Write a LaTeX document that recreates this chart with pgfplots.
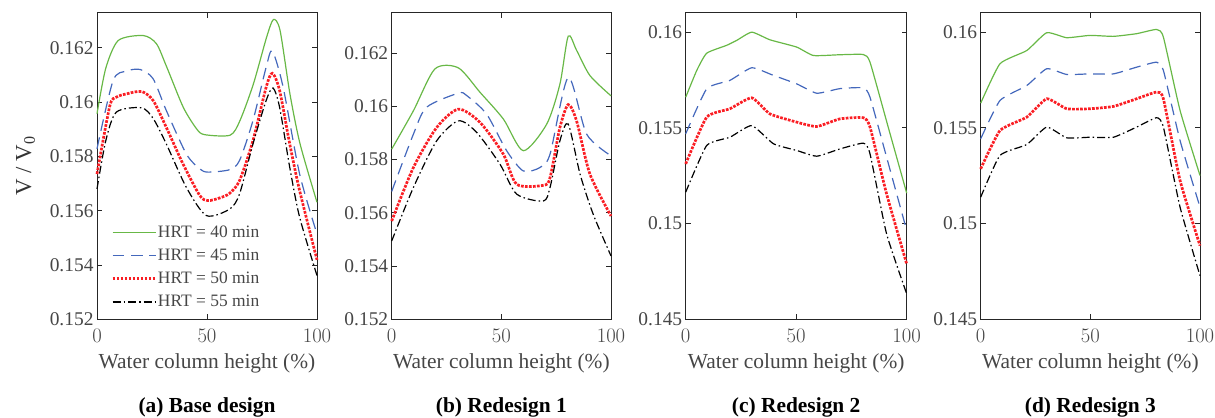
\documentclass[border=0pt]{standalone}
\usepackage{fontspec}
\setmainfont{Liberation Serif}
\usepackage{pgfplots}
\pgfplotsset{compat=1.18}
\definecolor{cg}{RGB}{104,184,70}
\definecolor{cb}{RGB}{68,104,188}
\definecolor{cr}{RGB}{250,30,36}
\definecolor{ctx}{RGB}{70,70,70}
\pgfplotsset{
  panel/.style={
    scale only axis, width=220bp, height=306.3bp, anchor=south west,
    xmin=0, xmax=100, xtick={0,50,100},
    xtick pos=both, ytick pos=both, tick align=inside,
    major tick length=5bp,
    tick style={black!85, line width=0.8bp},
    axis line style={black!85, line width=1bp},
    xticklabel style={font=\fontsize{19.5}{22}\selectfont, text=ctx, yshift=-6bp},
    yticklabel style={font=\fontsize{19.5}{22}\selectfont, text=ctx},
    xlabel={Water column height (\%)},
    xlabel style={at={(rel axis cs:0.5,0)}, anchor=center, yshift=-44bp, font=\fontsize{21.5}{24}\selectfont, text=ctx},
    clip=false,
  },
  sg/.style={cg, line width=1.2bp, smooth, tension=0.45},
  sb/.style={cb, line width=1.2bp, dash pattern=on 11.7bp off 6.7bp, smooth, tension=0.45},
  sr/.style={cr, line width=2.7bp, dash pattern=on 2.7bp off 1.3bp, smooth, tension=0.45},
  sk/.style={black, line width=1.2bp, dash pattern=on 8bp off 3bp on 1.5bp off 3bp, smooth, tension=0.45},
}
\begin{document}
\begin{tikzpicture}
\useasboundingbox (0,0) rectangle (1215bp,418bp);
% ---------------- (a)
\begin{axis}[panel, name=a, at={(97bp,98.7bp)},
  ymin=0.152, ymax=0.16328,
  ytick={0.152,0.154,0.156,0.158,0.160,0.162},
  yticklabels={0.152,0.154,0.156,0.158,0.16,0.162},
  ylabel={V / V\textsubscript{0}},
  ylabel style={at={(rel axis cs:-0.325,0.5)}, anchor=center, font=\fontsize{23}{26}\selectfont, text=black!80},
  legend style={at={(rel axis cs:0.064,0.313)}, anchor=north west, draw=none, fill=none,
     inner sep=0pt, row sep=6.2bp, font=\fontsize{17.5}{20}\selectfont, text=ctx,
     nodes={inner xsep=1bp}},
  legend cell align=left,
  legend image code/.code={\draw[#1] (0bp,0bp) -- (43bp,0bp);},
]
\addplot[sg] coordinates {(0,0.15957) (4,0.16125) (9.7,0.16227) (21,0.16245) (27,0.16215) (31.7,0.16129) (39.2,0.15981) (45.3,0.15901) (48.9,0.1588) (60.5,0.15878) (65,0.15932) (71.1,0.16067) (77.1,0.16239) (80.2,0.16304) (83.2,0.16264) (87.7,0.1603) (92.3,0.15846) (100,0.15631)};
\addlegendentry{HRT = 40 min}
\addplot[sb] coordinates {(0,0.15828) (7.3,0.16079) (13.3,0.16114) (19.6,0.1612) (25.5,0.16086) (31.5,0.15969) (40.6,0.15809) (46.7,0.15754) (50.4,0.15742) (60.3,0.15751) (64.8,0.15785) (70.9,0.15932) (76.9,0.16129) (79.7,0.16188) (84.6,0.16055) (92.1,0.15735) (100,0.15514)};
\addlegendentry{HRT = 45 min}
\addplot[sr] coordinates {(0,0.15735) (5.8,0.15985) (8.8,0.16018) (13.3,0.1603) (20.2,0.16039) (25.5,0.16006) (31.5,0.15907) (39.1,0.15772) (46.7,0.15656) (50.4,0.15637) (55.8,0.15647) (60.3,0.15664) (64.8,0.15711) (70.9,0.15858) (76.9,0.16055) (79.7,0.16106) (83,0.16043) (87.6,0.15846) (92.1,0.15674) (100,0.15419)};
\addlegendentry{HRT = 50 min}
\addplot[sk] coordinates {(0,0.1568) (4,0.15858) (8.8,0.15963) (20.2,0.15979) (25.5,0.1594) (31.5,0.15846) (40.6,0.15686) (49.7,0.15582) (60.3,0.15606) (64.8,0.15662) (70.9,0.15846) (76.9,0.16006) (80,0.16052) (83,0.15981) (87.6,0.1576) (92.1,0.15576) (100,0.15361)};
\addlegendentry{HRT = 55 min}
\end{axis}
% ---------------- (b)
\begin{axis}[panel, name=b, at={(391.7bp,98.7bp)}, width=219.3bp,
  ymin=0.152, ymax=0.1635,
  ytick={0.152,0.154,0.156,0.158,0.160,0.162},
  yticklabels={0.152,0.154,0.156,0.158,0.16,0.162},
]
\addplot[sg] coordinates {(0,0.15839) (9.9,0.15983) (19.7,0.1614) (30.4,0.16144) (40.3,0.16052) (50.9,0.15952) (60,0.15833) (70.7,0.15933) (76.7,0.16083) (80.5,0.16263) (84.3,0.1621) (90.4,0.16115) (100,0.16039)};
\addplot[sb] coordinates {(0,0.1568) (9.9,0.15895) (15.9,0.15996) (30.4,0.16049) (34.2,0.1604) (43.3,0.1597) (52.4,0.15833) (60,0.15757) (67.6,0.1577) (72.2,0.1582) (80.5,0.16108) (88.9,0.15895) (100,0.15814)};
\addplot[sr] coordinates {(0,0.15569) (9.9,0.1577) (20.5,0.1592) (30.4,0.15989) (40.3,0.15939) (50.9,0.1582) (57,0.15707) (69.1,0.15703) (72.2,0.15732) (76.7,0.1592) (80.5,0.16006) (84.3,0.15945) (90.4,0.15745) (100,0.15588)};
\addplot[sk] coordinates {(0,0.15494) (9.9,0.15695) (20.5,0.1587) (30.4,0.15945) (38.7,0.15902) (49.4,0.15782) (57,0.1567) (69.1,0.15644) (72.2,0.15695) (76.7,0.1587) (80.5,0.15933) (85.9,0.15745) (91.9,0.15594) (100,0.15438)};
\end{axis}
% ---------------- (c)
\begin{axis}[panel, name=c, at={(685.7bp,98.7bp)}, width=221bp,
  ymin=0.145, ymax=0.161,
  ytick={0.145,0.15,0.155,0.16},
  yticklabels={0.145,0.15,0.155,0.16},
]
\addplot[sg, tension=0.3] coordinates {(0,0.1566) (5,0.158) (9.5,0.1589) (18.5,0.15931) (23.1,0.15957) (29.9,0.16) (38.1,0.1596) (50.2,0.15922) (57.8,0.15878) (69.8,0.15882) (80.4,0.15883) (83.4,0.15843) (91.7,0.15501) (100,0.15159)};
\addplot[sb, tension=0.3] coordinates {(0,0.15469) (9.5,0.15704) (20,0.15748) (29.9,0.15814) (39.7,0.15774) (50.2,0.1573) (59.3,0.15681) (69.8,0.15705) (80.4,0.15709) (83.4,0.1566) (90.9,0.15347) (100,0.14964)};
\addplot[sr, tension=0.3] coordinates {(0,0.15312) (9.5,0.15556) (20,0.156) (29.9,0.15657) (38.1,0.15573) (50.2,0.1553) (59.3,0.15507) (69.8,0.15547) (80.4,0.15553) (83.4,0.15504) (90.9,0.15155) (100,0.14789)};
\addplot[sk, tension=0.3] coordinates {(0,0.15164) (9.5,0.15408) (20,0.15451) (29.9,0.15512) (39.7,0.15417) (50.2,0.15382) (59.3,0.15352) (69.8,0.1539) (80.4,0.1542) (83.4,0.15364) (90.9,0.14946) (100,0.14633)};
\end{axis}
% ---------------- (d)
\begin{axis}[panel, name=d, at={(980.7bp,98.7bp)}, width=219.3bp,
  ymin=0.145, ymax=0.161,
  ytick={0.145,0.15,0.155,0.16},
  yticklabels={0.145,0.15,0.155,0.16},
]
\addplot[sg, tension=0.3] coordinates {(0,0.15629) (8.8,0.15835) (21,0.15904) (30.1,0.15997) (39.2,0.15971) (49.8,0.15983) (60.5,0.15978) (71.1,0.15992) (80.2,0.16014) (83.3,0.15974) (90.9,0.15591) (100,0.15251)};
\addplot[sb, tension=0.3] coordinates {(0,0.15443) (8.8,0.15643) (21,0.15721) (30.1,0.15809) (39.2,0.15779) (49.8,0.15782) (60.5,0.15782) (71.1,0.15817) (80.2,0.15843) (83.3,0.158) (90.9,0.15434) (100,0.15086)};
\addplot[sr, tension=0.3] coordinates {(0,0.15286) (8.8,0.15486) (21,0.15556) (30.1,0.15652) (39.2,0.156) (49.8,0.156) (60.5,0.15612) (71.1,0.15652) (80.2,0.15687) (83.3,0.15652) (90.9,0.15225) (100,0.14885)};
\addplot[sk, tension=0.3] coordinates {(0,0.15138) (8.8,0.15356) (21,0.15413) (30.1,0.15504) (39.2,0.15448) (49.8,0.15451) (60.5,0.15451) (71.1,0.15504) (80.2,0.15553) (83.3,0.15504) (90.9,0.15086) (100,0.14728)};
\end{axis}
\foreach \n/\t in {a/{(a) Base design}, b/{(b) Redesign 1}, c/{(c) Redesign 2}, d/{(d) Redesign 3}}
  \node[font=\bfseries\fontsize{21.5}{24}\selectfont, anchor=center] at ([yshift=-88bp]\n.south) {\t};
\end{tikzpicture}
\end{document}
